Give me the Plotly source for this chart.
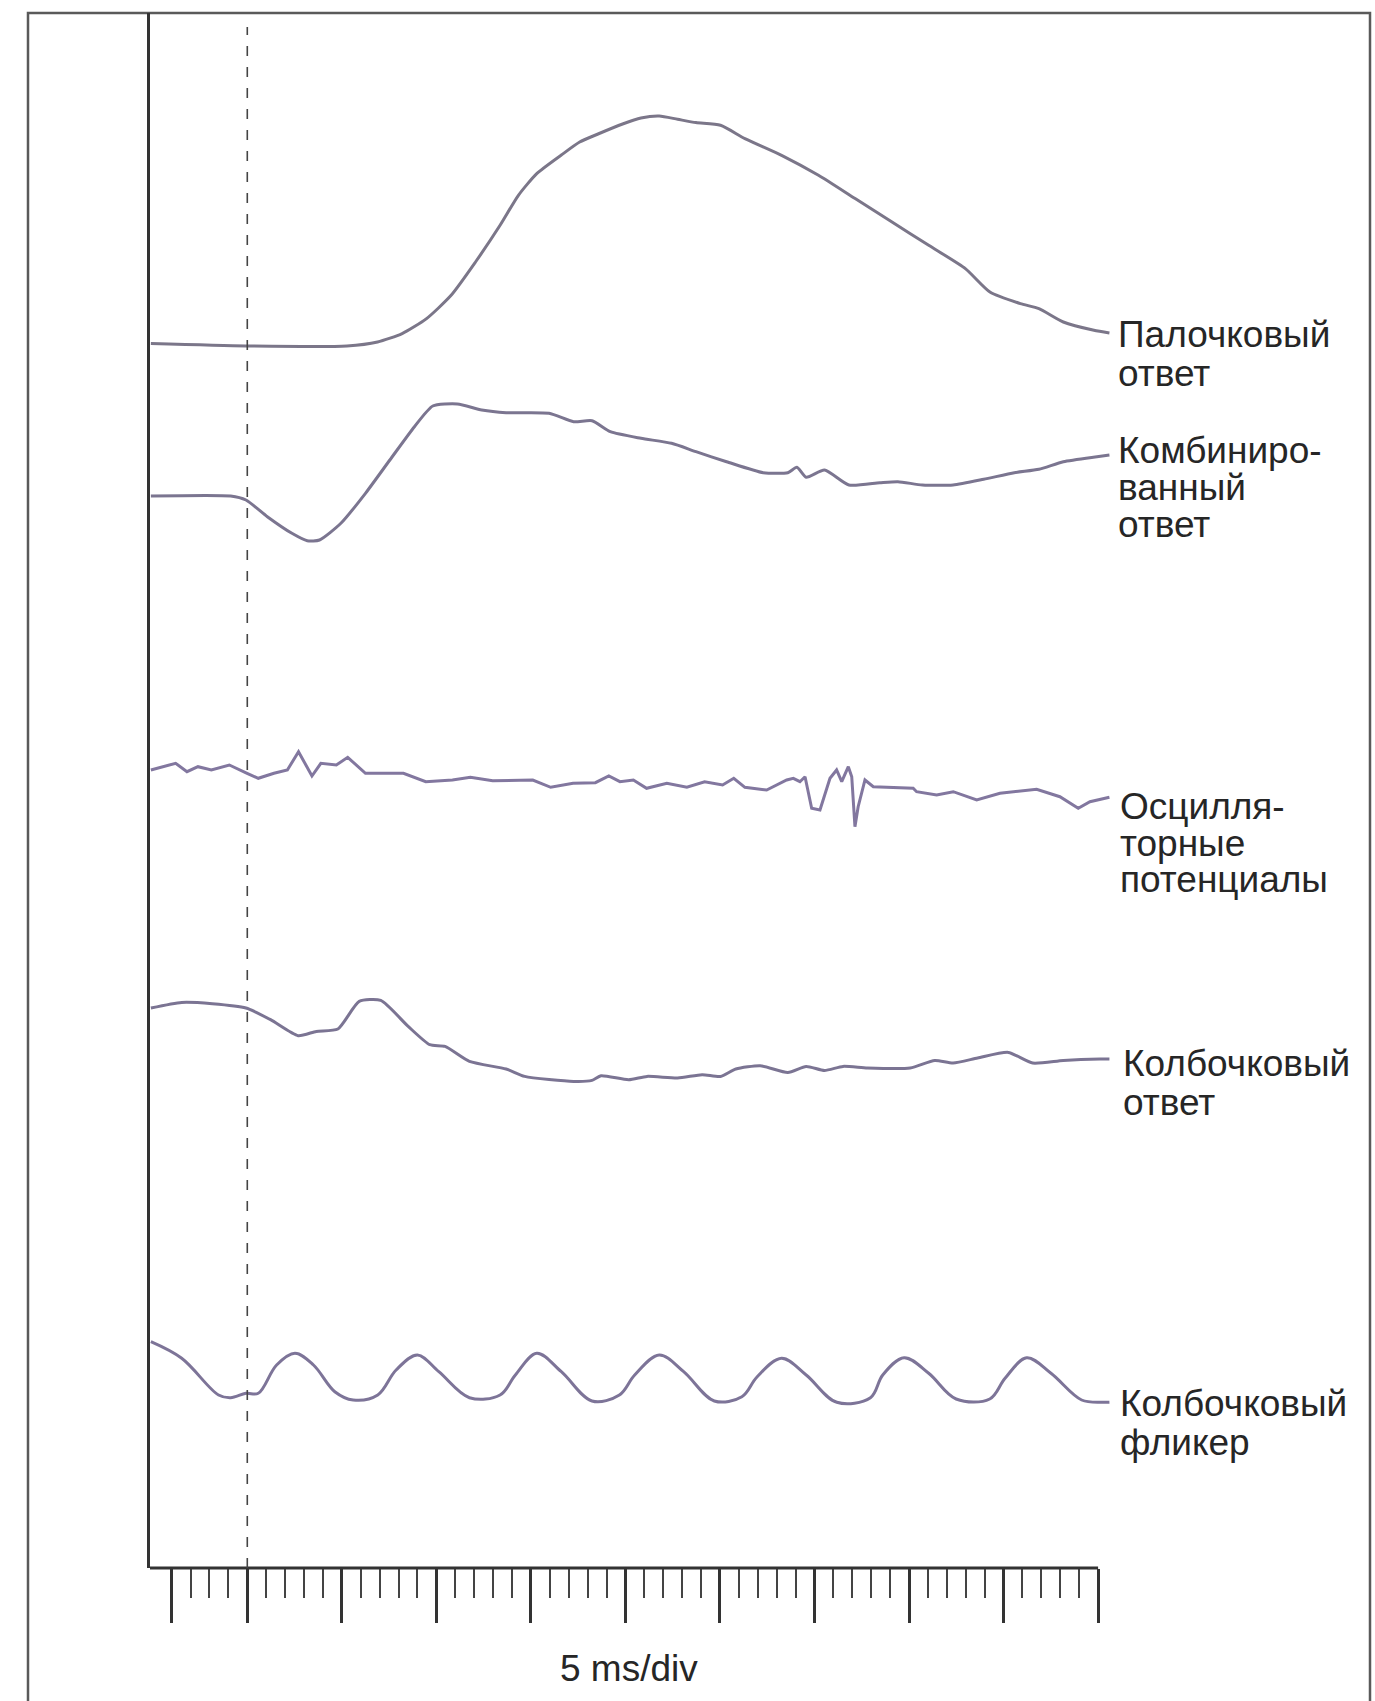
import plotly.graph_objects as go

# ---------------------------------------------------------------------------
# ERG responses, time in ms after the flash (0 = stimulus), 5 ms/div
# amplitudes in arbitrary units relative to each record's own baseline
# ---------------------------------------------------------------------------
t_rod = [-5.1, -0.07, 5.27, 6.89, 8.19, 9.48, 10.78, 12.07, 13.37, 14.34, 15.31,
         16.61, 17.58, 18.55, 19.85, 20.82, 21.79, 22.76, 23.73, 25.03, 26.32,
         28.26, 30.21, 32.15, 34.1, 36.04, 37.98, 39.28, 40.89, 41.87, 43.16,
         44.78, 45.6]
rod = [2.4, 0, 0, 4.0, 12.4, 27.4, 50.7, 84, 120.7, 150.7, 172.4,
       191, 204, 212, 222, 228, 230, 226.7, 223.4, 220.7, 207.4,
       190.7, 170.7, 147.4, 124, 100.7, 77.4, 54, 42.4, 37.4, 24,
       15.7, 13]

t_mixed = [-5.1, -0.88, -0.07, 1.06, 2.36, 3.17, 3.82, 4.95, 6.25, 7.54, 8.84,
           9.81, 11.11, 12.4, 13.69, 15.96, 17.26, 18.23, 19.2, 20.82, 22.44,
           23.73, 25.35, 27.29, 28.59, 29.07, 29.56, 30.53, 31.82, 33.45, 34.41,
           35.71, 37.33, 38.95, 40.57, 41.87, 43.16, 44.94, 45.6]
mixed = [0, 0, -4, -20.7, -37.3, -44.7, -44, -27.3, 2.7, 36, 69.3,
         90, 92, 86, 83.3, 82.7, 74.3, 75.3, 64.3, 57.7, 52.7,
         44.3, 34.3, 23.3, 23.3, 28.7, 18.7, 26, 11, 13.3, 14.3,
         11, 11, 16.7, 23.3, 26.7, 34.3, 39.3, 41]

t_ops = [-5.1, -3.79, -3.19, -2.61, -1.9, -0.95, -0.01, 0.58, 1.41, 2.12, 2.71,
         3.42, 3.89, 4.71, 5.31, 6.25, 8.26, 9.44, 10.85, 11.8, 12.98,
         15.1, 16.05, 17.23, 18.41, 19.12, 19.71, 20.42, 21.12, 22.19, 23.25,
         24.19, 25.14, 25.73, 26.32, 27.47, 28.53, 28.88, 29.23, 29.5, 29.85,
         30.29, 30.82, 31.17, 31.44, 31.79, 31.97, 32.14, 32.31, 32.67, 33.11,
         35.22, 35.4, 36.46, 37.34, 38.58, 39.81, 40.69, 41.75, 42.98, 43.95,
         44.57, 45.6]
ops = [0, 6.7, -1.7, 3.3, 0, 5, -3.3, -8.3, -3.3, 0, 18.3,
       -6, 6.7, 5, 12.7, -3.3, -3.3, -11.7, -10, -7.3, -10.7,
       -10, -17.3, -13.3, -12.7, -6, -11.7, -10, -18.3, -13.3, -17.3,
       -11.7, -15, -8.3, -17.3, -20, -10, -8.3, -11.7, -6.7, -38.3,
       -40, -8.3, 0, -11.7, 3.3, -6.7, -56.7, -36.7, -10, -16.7,
       -18.3, -21.7, -25, -21.7, -30, -23.3, -21.7, -19.3, -26.7, -38.3,
       -31.7, -27.3]

t_cone = [-5.1, -3.47, -1.85, -0.07, 1.23, 2.69, 3.65, 4.79, 5.92, 7.06, 8.51,
          9.65, 10.46, 11.75, 13.69, 14.67, 17.26, 18.23, 18.71, 20.17, 21.14,
          22.76, 24.06, 25.03, 25.84, 27.13, 28.59, 29.56, 30.53, 31.51, 32.8,
          35.06, 36.36, 37.33, 38.63, 40.25, 41.54, 43.16, 45.1, 45.6]
cone = [0, 5.6, 4.3, 0, -11.7, -27.7, -23.4, -21, 6.6, 7.6, -18.4,
        -36.7, -38.4, -53.4, -61, -68.4, -73.4, -72.4, -67.7, -71.7, -68.4,
        -70, -66.7, -68.4, -61, -57.7, -64.4, -58.4, -62.4, -58.4, -60,
        -60, -52.4, -55, -50, -44.4, -55, -52.4, -51, -51]

t_flicker = [-5.1, -3.47, -1.52, -0.88, -0.07, 0.58, 1.55, 2.52, 3.5, 4.63, 5.6,
             6.9, 7.87, 9.0, 10.13, 11.75, 13.37, 14.18, 15.31, 16.61, 18.23,
             19.68, 20.49, 21.79, 23.08, 24.7, 26.16, 26.97, 28.26, 29.56, 31.18,
             32.96, 33.61, 34.74, 36.04, 37.49, 39.27, 40.08, 41.22, 42.51, 44.13,
             45.27, 45.6]
flicker = [58.3, 41.7, 5, 2.3, 6.7, 6.7, 35, 46.7, 35, 8.3, 0,
           5, 30, 45, 28.3, 2.3, 5, 25, 46.7, 28.3, -1,
           5, 25, 45, 28.3, -1, 3.3, 23.3, 41.7, 25, -2.3,
           2.3, 25, 42.3, 26.7, 1, 1, 21.7, 42.3, 26.7, 0,
           -2.3, -2.3]

labels = [
    ["Палочковый", "ответ"],
    ["Комбиниро-", "ванный", "ответ"],
    ["Осцилля-", "торные", "потенциалы"],
    ["Колбочковый", "ответ"],
    ["Колбочковый", "фликер"],
]
scale_label = "5 ms/div"

major_ticks = [-4] + list(range(0, 50, 5))
minor_ticks = [m for m in range(-3, 45) if m % 5 != 0]

# ---------------------------------------------------------------------------
# layout geometry (pixels)
# ---------------------------------------------------------------------------
W, H = 1375, 1701
PL, PR, PT, PB = 150, 1110, 13, 1568          # plot area edges
X_MIN, X_MAX = -5.146, 45.63
Y_SPAN = PB - PT


def px_x(px):
    return (px - PL) / (PR - PL)


def px_y(py):
    return (PB - py) / Y_SPAN


# vertical position of each record's baseline (axis units, up from the time axis)
records = [
    (t_rod, rod, 1222, "#7b7689", "spline", 0.6),
    (t_mixed, mixed, 1072, "#7b7590", "spline", 0.6),
    (t_ops, ops, 798, "#82779f", "linear", None),
    (t_cone, cone, 560, "#7b7493", "spline", 0.6),
    (t_flicker, flicker, 168, "#7d7498", "spline", 1.0),
]

fig = go.Figure()
for t, amp, base, color, shape, smooth in records:
    line = dict(color=color, width=3, shape=shape)
    if smooth is not None:
        line["smoothing"] = smooth
    fig.add_trace(go.Scatter(
        x=t, y=[base + a for a in amp], mode="lines", line=line,
        hoverinfo="skip", showlegend=False,
    ))

font_family = "Liberation Sans, Arial, sans-serif"
text_color = "#262626"
FS = 37

# label blocks: left edge and baseline of each line (pixels)
label_pos = [
    (1116, [348, 387]),
    (1116, [464, 501, 538]),
    (1118, [820, 857, 893]),
    (1121, [1077, 1116]),
    (1118, [1417, 1456]),
]
annotations = []
for lines, (lx, baselines) in zip(labels, label_pos):
    for txt, b in zip(lines, baselines):
        annotations.append(dict(
            text=txt, x=px_x(lx), y=px_y(b - 0.36 * FS), xref="paper", yref="paper",
            xanchor="left", yanchor="middle", showarrow=False,
            font=dict(family=font_family, size=FS, color=text_color),
        ))
annotations.append(dict(
    text=scale_label, x=px_x(629), y=px_y(1682 - 0.36 * FS), xref="paper", yref="paper",
    xanchor="center", yanchor="middle", showarrow=False,
    font=dict(family=font_family, size=FS, color=text_color),
))

shapes = [
    # outer frame
    dict(type="rect", xref="paper", yref="paper",
         x0=px_x(28), x1=px_x(1370), y0=px_y(1730), y1=px_y(13),
         line=dict(color="#5a5a5a", width=2.5), layer="below"),
    # time axis line
    dict(type="line", xref="x", yref="paper", x0=X_MIN, x1=45, y0=0, y1=0,
         line=dict(color="#333333", width=3)),
    # stimulus marker
    dict(type="line", xref="x", yref="paper", x0=0, x1=0, y0=0, y1=px_y(27),
         line=dict(color="#444444", width=1.6, dash="10px,11px")),
]

fig.update_layout(
    width=W, height=H,
    margin=dict(l=PL, r=W - PR, t=PT, b=H - PB, pad=0),
    paper_bgcolor="white", plot_bgcolor="white",
    xaxis=dict(
        range=[X_MIN, X_MAX], showgrid=False, zeroline=False, showline=False,
        ticks="outside", tickmode="array", tickvals=major_ticks, ticklen=54,
        tickwidth=2.5, tickcolor="#333333", showticklabels=False,
        minor=dict(tickmode="array", tickvals=minor_ticks, ticks="outside",
                   ticklen=29, tickwidth=2, tickcolor="#444444", showgrid=False),
    ),
    yaxis=dict(
        range=[0, Y_SPAN], showgrid=False, zeroline=False, showline=True,
        linecolor="#333333", linewidth=3, ticks="", showticklabels=False,
    ),
    shapes=shapes,
    annotations=annotations,
)

fig.write_html("out.html")
